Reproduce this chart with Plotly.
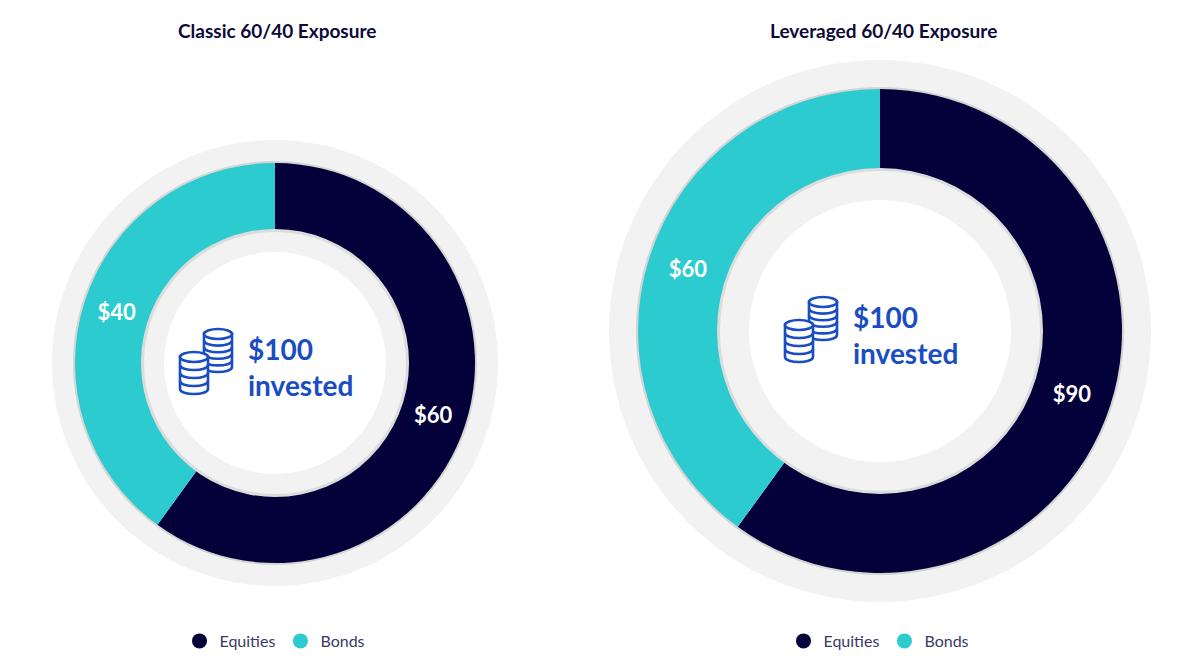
import plotly.graph_objects as go

# la pagina tiene 8px de margen en el body, el grafico se dibuja dentro
OFF = 8
W, H = 1200 - 2 * OFF, 659 - OFF

# data
categorias = ["Equities", "Bonds"]
clasico = [60, 40]
apalancado = [90, 60]
titulos = ["Classic 60/40 Exposure", "Leveraged 60/40 Exposure"]
texto_centro = "$100<br>invested"

colores = ["#04003a", "#2ccbd0"]
gris = "#f2f2f2"
sombra = "#d4d4d4"
azul = "#1a4dc2"
fuente = "Lato"

# geometria de cada dona en pixeles de la pagina
donas = [
    dict(cx=275, cy=363, r_gris=223, r_blanco=111, r_color=200, r_hueco=133, tx=277, lx=275),
    dict(cx=880, cy=331, r_gris=271, r_blanco=131, r_color=242, r_hueco=162, tx=883, lx=879),
]


def px_x(x):
    return (x - OFF) / W


def px_y(y):
    return 1 - (y - OFF) / H


def dominio(cx, cy, r):
    return dict(x=[px_x(cx - r), px_x(cx + r)], y=[px_y(cy + r), px_y(cy - r)])


def anillo(d, r_ext, r_int, color):
    return go.Pie(
        values=[1], labels=["_"], domain=dominio(d["cx"], d["cy"], r_ext),
        hole=r_int / r_ext, marker=dict(colors=[color], line=dict(width=0)),
        textinfo="none", hoverinfo="skip", showlegend=False, sort=False,
    )


fig = go.Figure()

for d, valores in zip(donas, [clasico, apalancado]):
    fig.add_trace(anillo(d, d["r_gris"], d["r_blanco"], gris))
    fig.add_trace(anillo(d, d["r_color"] + 2, d["r_color"] - 2, sombra))
    fig.add_trace(go.Pie(
        labels=categorias, values=valores,
        domain=dominio(d["cx"], d["cy"], d["r_color"]),
        hole=d["r_hueco"] / d["r_color"],
        direction="clockwise", sort=False, rotation=0,
        marker=dict(colors=colores, line=dict(width=0)),
        texttemplate="$%{value}", textposition="inside",
        insidetextorientation="horizontal",
        textfont=dict(family=fuente, size=22, color="white", weight="bold"),
        hoverinfo="label+value", showlegend=False,
    ))
    fig.add_trace(anillo(d, d["r_hueco"] + 1, d["r_hueco"] - 2, "#dcdcdc"))

# leyendas con circulos
for leyenda in ["legend", "legend2"]:
    for cat, col in zip(categorias, colores):
        fig.add_trace(go.Scatter(
            x=[None], y=[None], mode="markers", name=cat,
            marker=dict(color=col, size=15, symbol="circle"),
            legend=leyenda, showlegend=True,
        ))


def pila(cx, y_top, y_bot, n, rx=14, ry=5):
    """monedas apiladas: cuerpo, bandas y tapa"""
    shapes = []
    L, R = px_x(cx - rx), px_x(cx + rx)
    k = 4 / 3 * ry
    yb = y_bot - ry
    cuerpo = (f"M {L},{px_y(y_top)} L {L},{px_y(yb)} "
              f"C {L},{px_y(yb + k)} {R},{px_y(yb + k)} {R},{px_y(yb)} "
              f"L {R},{px_y(y_top)} Z")
    shapes.append(dict(type="path", path=cuerpo, xref="paper", yref="paper",
                       fillcolor="white", line=dict(color=azul, width=2.6)))
    paso = (yb - y_top) / n
    for j in range(1, n):
        yy = y_top + j * paso
        banda = (f"M {L},{px_y(yy)} "
                 f"C {L},{px_y(yy + k)} {R},{px_y(yy + k)} {R},{px_y(yy)}")
        shapes.append(dict(type="path", path=banda, xref="paper", yref="paper",
                           line=dict(color=azul, width=2.6)))
    shapes.append(dict(type="circle", xref="paper", yref="paper",
                       x0=L, x1=R, y0=px_y(y_top + ry), y1=px_y(y_top - ry),
                       fillcolor="white", line=dict(color=azul, width=2.6)))
    return shapes


shapes = []
annotations = []
for d, titulo in zip(donas, titulos):
    cx, cy = d["cx"], d["cy"]
    # icono de monedas
    shapes += pila(cx - 57, cy - 29, cy + 9, 5)
    shapes += pila(cx - 81, cy - 6, cy + 31, 4)
    annotations.append(dict(
        x=px_x(cx - 29), y=px_y(cy + 4), xref="paper", yref="paper",
        xanchor="left", yanchor="middle", align="left", showarrow=False,
        text=texto_centro,
        font=dict(family=fuente, size=28, color=azul, weight="bold"),
    ))
    annotations.append(dict(
        x=px_x(d["tx"]), y=px_y(30), xref="paper", yref="paper",
        xanchor="center", yanchor="middle", text=titulo, showarrow=False,
        font=dict(family=fuente, size=19, color="#0d0a3a", weight="bold"),
    ))

leg = dict(orientation="h", xanchor="center", yanchor="middle",
           font=dict(family=fuente, size=16, color="#3a3a64"),
           bgcolor="rgba(0,0,0,0)", itemwidth=30, tracegroupgap=0)

fig.update_layout(
    width=W, height=H,
    margin=dict(l=0, r=0, t=0, b=0, autoexpand=False),
    paper_bgcolor="white", plot_bgcolor="white",
    font_family=fuente,
    shapes=shapes,
    annotations=annotations,
    legend=dict(leg, x=px_x(donas[0]["lx"]), y=px_y(641)),
    legend2=dict(leg, x=px_x(donas[1]["lx"]), y=px_y(641)),
    xaxis=dict(visible=False),
    yaxis=dict(visible=False),
)

fig.write_html("out.html")
